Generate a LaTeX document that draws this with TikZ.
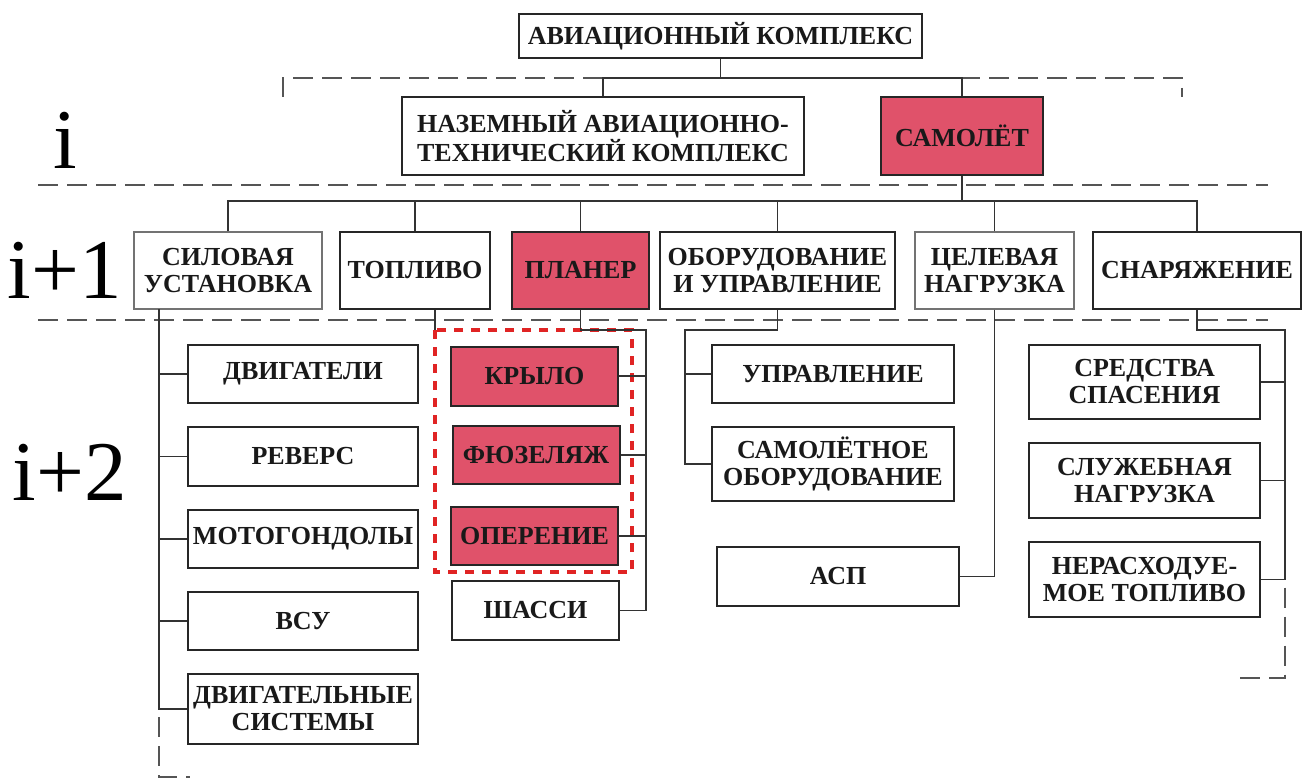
\documentclass[tikz,border=0pt]{standalone}
\usepackage{fontspec}
\setmainfont{Liberation Serif}
\definecolor{boxred}{HTML}{E0526A}
\definecolor{sepgray}{HTML}{555555}
\definecolor{dotred}{HTML}{E02424}
\begin{document}
\begin{tikzpicture}[x=1pt,y=-1pt,
 bx/.style={draw=black!85, line width=2pt, fill=white, align=center, inner sep=0pt, font=\bfseries\fontsize{26}{27}\selectfont, text=black!90},
 thinbx/.style={bx, draw=black!55, line width=1.2pt},
 redbx/.style={bx, fill=boxred},
 conn/.style={line width=1.8pt, draw=black!80},
 sep/.style={line width=1.8pt, draw=sepgray, dash pattern=on 20pt off 9pt},
 reddot/.style={line width=3.5pt, draw=dotred, dash pattern=on 9pt off 8pt},
 lvl/.style={font=\fontsize{85}{85}\selectfont, anchor=base, inner sep=0pt}]
\useasboundingbox[fill=white] (0,0) rectangle (1309,781);

% level separators
\draw[sep] (38,185) -- (1268,185);
\draw[sep] (38,320) -- (1268,320);
\draw[sep] (283,97) -- (283,78) -- (1182,78) -- (1182,97);

% level labels
\node[lvl] (li) at (65,168) {i};
\node[lvl] (li1) at (65,298) {i+1};
\node[lvl] (li2) at (70,500) {i+2};

% level i
\node[bx, minimum width=403pt, minimum height=44pt] (top) at (720.5,36) {АВИАЦИОННЫЙ КОМПЛЕКС};
\node[bx, minimum width=402pt, minimum height=78pt] (nazem) at (603,136) {НАЗЕМНЫЙ АВИАЦИОННО-\\ТЕХНИЧЕСКИЙ КОМПЛЕКС};
\node[redbx, minimum width=162pt, minimum height=78pt] (samolet) at (962,136) {САМОЛЁТ};

% level i+1
\node[thinbx, minimum width=188pt, minimum height=77pt] (silov) at (228,270.5) {СИЛОВАЯ\\УСТАНОВКА};
\node[bx, minimum width=150pt, minimum height=77pt] (topl) at (415,270.5) {ТОПЛИВО};
\node[redbx, minimum width=137pt, minimum height=77pt] (planer) at (580.5,270.5) {ПЛАНЕР};
\node[bx, minimum width=235pt, minimum height=77pt] (oborud) at (777.5,270.5) {ОБОРУДОВАНИЕ\\И УПРАВЛЕНИЕ};
\node[thinbx, minimum width=159pt, minimum height=77pt] (celev) at (994.5,270.5) {ЦЕЛЕВАЯ\\НАГРУЗКА};
\node[bx, minimum width=208pt, minimum height=77pt] (snar) at (1197,270.5) {СНАРЯЖЕНИЕ};

% level i+2, left column
\node[bx, minimum width=230pt, minimum height=58pt] (dvig) at (303,374) {ДВИГАТЕЛИ};
\node[bx, minimum width=230pt, minimum height=59pt] (revers) at (303,456.5) {РЕВЕРС};
\node[bx, minimum width=230pt, minimum height=58pt] (motog) at (303,539) {МОТОГОНДОЛЫ};
\node[bx, minimum width=230pt, minimum height=58pt] (vsu) at (303,621) {ВСУ};
\node[bx, minimum width=230pt, minimum height=70pt] (dvsist) at (303,709) {ДВИГАТЕЛЬНЫЕ\\СИСТЕМЫ};

% middle column
\node[redbx, minimum width=167pt, minimum height=59pt] (krylo) at (534.5,376) {КРЫЛО};
\node[redbx, minimum width=167pt, minimum height=58pt] (fuzel) at (536,455) {ФЮЗЕЛЯЖ};
\node[redbx, minimum width=167pt, minimum height=58pt] (operen) at (534.5,536) {ОПЕРЕНИЕ};
\node[bx, minimum width=167pt, minimum height=59pt] (shassi) at (535.5,610.5) {ШАССИ};

% right-middle column
\node[bx, minimum width=242pt, minimum height=58pt] (uprav) at (833,374) {УПРАВЛЕНИЕ};
\node[bx, minimum width=242pt, minimum height=74pt] (samobor) at (833,464) {САМОЛЁТНОЕ\\ОБОРУДОВАНИЕ};
\node[bx, minimum width=242pt, minimum height=59pt] (asp) at (838,576.5) {АСП};

% right column
\node[bx, minimum width=231pt, minimum height=74pt] (sredstva) at (1144.5,382) {СРЕДСТВА\\СПАСЕНИЯ};
\node[bx, minimum width=231pt, minimum height=75pt] (sluzh) at (1144.5,480.5) {СЛУЖЕБНАЯ\\НАГРУЗКА};
\node[bx, minimum width=231pt, minimum height=75pt] (nerash) at (1144.5,579.5) {НЕРАСХОДУЕ-\\МОЕ ТОПЛИВО};

% red dotted group
\coordinate (rb) at (435,330);
\draw[reddot] (rb) rectangle (632,572);

% connectors level i
\coordinate (j1) at (720.5,78);
\draw[conn] (top.south) -- (j1);
\draw[conn] (nazem.north) |- (j1);
\draw[conn] (samolet.north) |- (j1);

% connectors level i+1
\coordinate (j2) at (962,201);
\draw[conn] (samolet.south) -- (j2);
\foreach \b in {silov,topl,planer,oborud,celev,snar}
  \draw[conn] (\b.north) |- (j2);

% left trunk
\coordinate (lt) at (159,309);
\draw[conn] (lt) |- (dvsist.west);
\foreach \b in {dvig,revers,motog,vsu}
  \draw[conn] (\b.west) -- (\b.west -| lt);
\draw[sep] (dvsist.west -| lt) ++(0,8) -- (159,777) -- (190,777);

% middle trunk
\coordinate (mt) at (646,330);
\draw[conn] (planer.south) |- (mt) -- (mt |- shassi.east) -- (shassi.east);
\foreach \b in {krylo,fuzel,operen}
  \draw[conn] (\b.east) -- (\b.east -| mt);
\draw[conn] (topl.south -| rb) -- (rb);

% right-middle trunk
\coordinate (ot) at (685,330);
\draw[conn] (oborud.south) |- (ot) -- (ot |- samobor.west) -- (samobor.west);
\draw[conn] (uprav.west) -- (uprav.west -| ot);
\draw[conn] (celev.south) |- (asp.east);

% right trunk
\coordinate (st) at (1285,330);
\draw[conn] (snar.south) |- (st) -- (st |- nerash.east) -- (nerash.east);
\foreach \b in {sredstva,sluzh}
  \draw[conn] (\b.east) -- (\b.east -| st);
\draw[sep] (st |- nerash.east) ++(0,8) -- (1285,678) -- (1234,678);
\end{tikzpicture}
\end{document}
